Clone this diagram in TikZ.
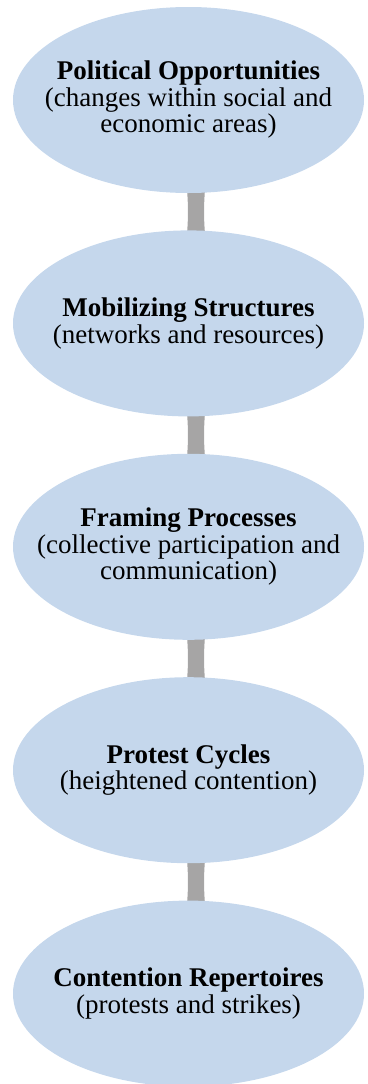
\documentclass[tikz,border=0pt]{standalone}
\usepackage{fontspec}
\setmainfont{Liberation Serif}
\usetikzlibrary{shapes.geometric,positioning,backgrounds}
\definecolor{stageblue}{RGB}{197,215,236}
\definecolor{jointgray}{RGB}{166,165,165}
\tikzset{
	stage/.style={
		ellipse, minimum width=351pt, minimum height=186pt,
		inner xsep=-60pt, inner ysep=0pt, fill=stageblue,
		align=center, font=\fontsize{27pt}{26.5pt}\selectfont
	},
	%
	joint/.style={
		fill=jointgray
	}
}
\begin{document}
\begin{tikzpicture}
\useasboundingbox (0,0) rectangle (367pt,-1084pt);
%stages
\node (PO) [stage] at (188.5pt,-100pt) {\textbf{Political Opportunities}\\(changes within social and\\economic areas)};
\node (MS) [stage, below=37pt of PO] {\textbf{Mobilizing Structures}\\(networks and resources)};
\node (FP) [stage, below=37pt of MS] {\textbf{Framing Processes}\\(collective participation and\\communication)};
\node (PC) [stage, below=37pt of FP] {\textbf{Protest Cycles}\\(heightened contention)};
\node (CR) [stage, below=37pt of PC] {\textbf{Contention Repertoires}\\(protests and strikes)};

%joints
\begin{scope}[on background layer]
\fill[joint] ([xshift=-2pt,yshift=10pt]PO.south) to[bend left=5] ([xshift=-2pt,yshift=-10pt]MS.north) -- ([xshift=17pt,yshift=-10pt]MS.north) to[bend left=5] ([xshift=17pt,yshift=10pt]PO.south) -- cycle;
\fill[joint] ([xshift=-2pt,yshift=10pt]MS.south) to[bend left=5] ([xshift=-2pt,yshift=-10pt]FP.north) -- ([xshift=17pt,yshift=-10pt]FP.north) to[bend left=5] ([xshift=17pt,yshift=10pt]MS.south) -- cycle;
\fill[joint] ([xshift=-2pt,yshift=10pt]FP.south) to[bend left=5] ([xshift=-2pt,yshift=-10pt]PC.north) -- ([xshift=17pt,yshift=-10pt]PC.north) to[bend left=5] ([xshift=17pt,yshift=10pt]FP.south) -- cycle;
\fill[joint] ([xshift=-2pt,yshift=10pt]PC.south) to[bend left=5] ([xshift=-2pt,yshift=-10pt]CR.north) -- ([xshift=17pt,yshift=-10pt]CR.north) to[bend left=5] ([xshift=17pt,yshift=10pt]PC.south) -- cycle;
\end{scope}
\end{tikzpicture}
\end{document}
